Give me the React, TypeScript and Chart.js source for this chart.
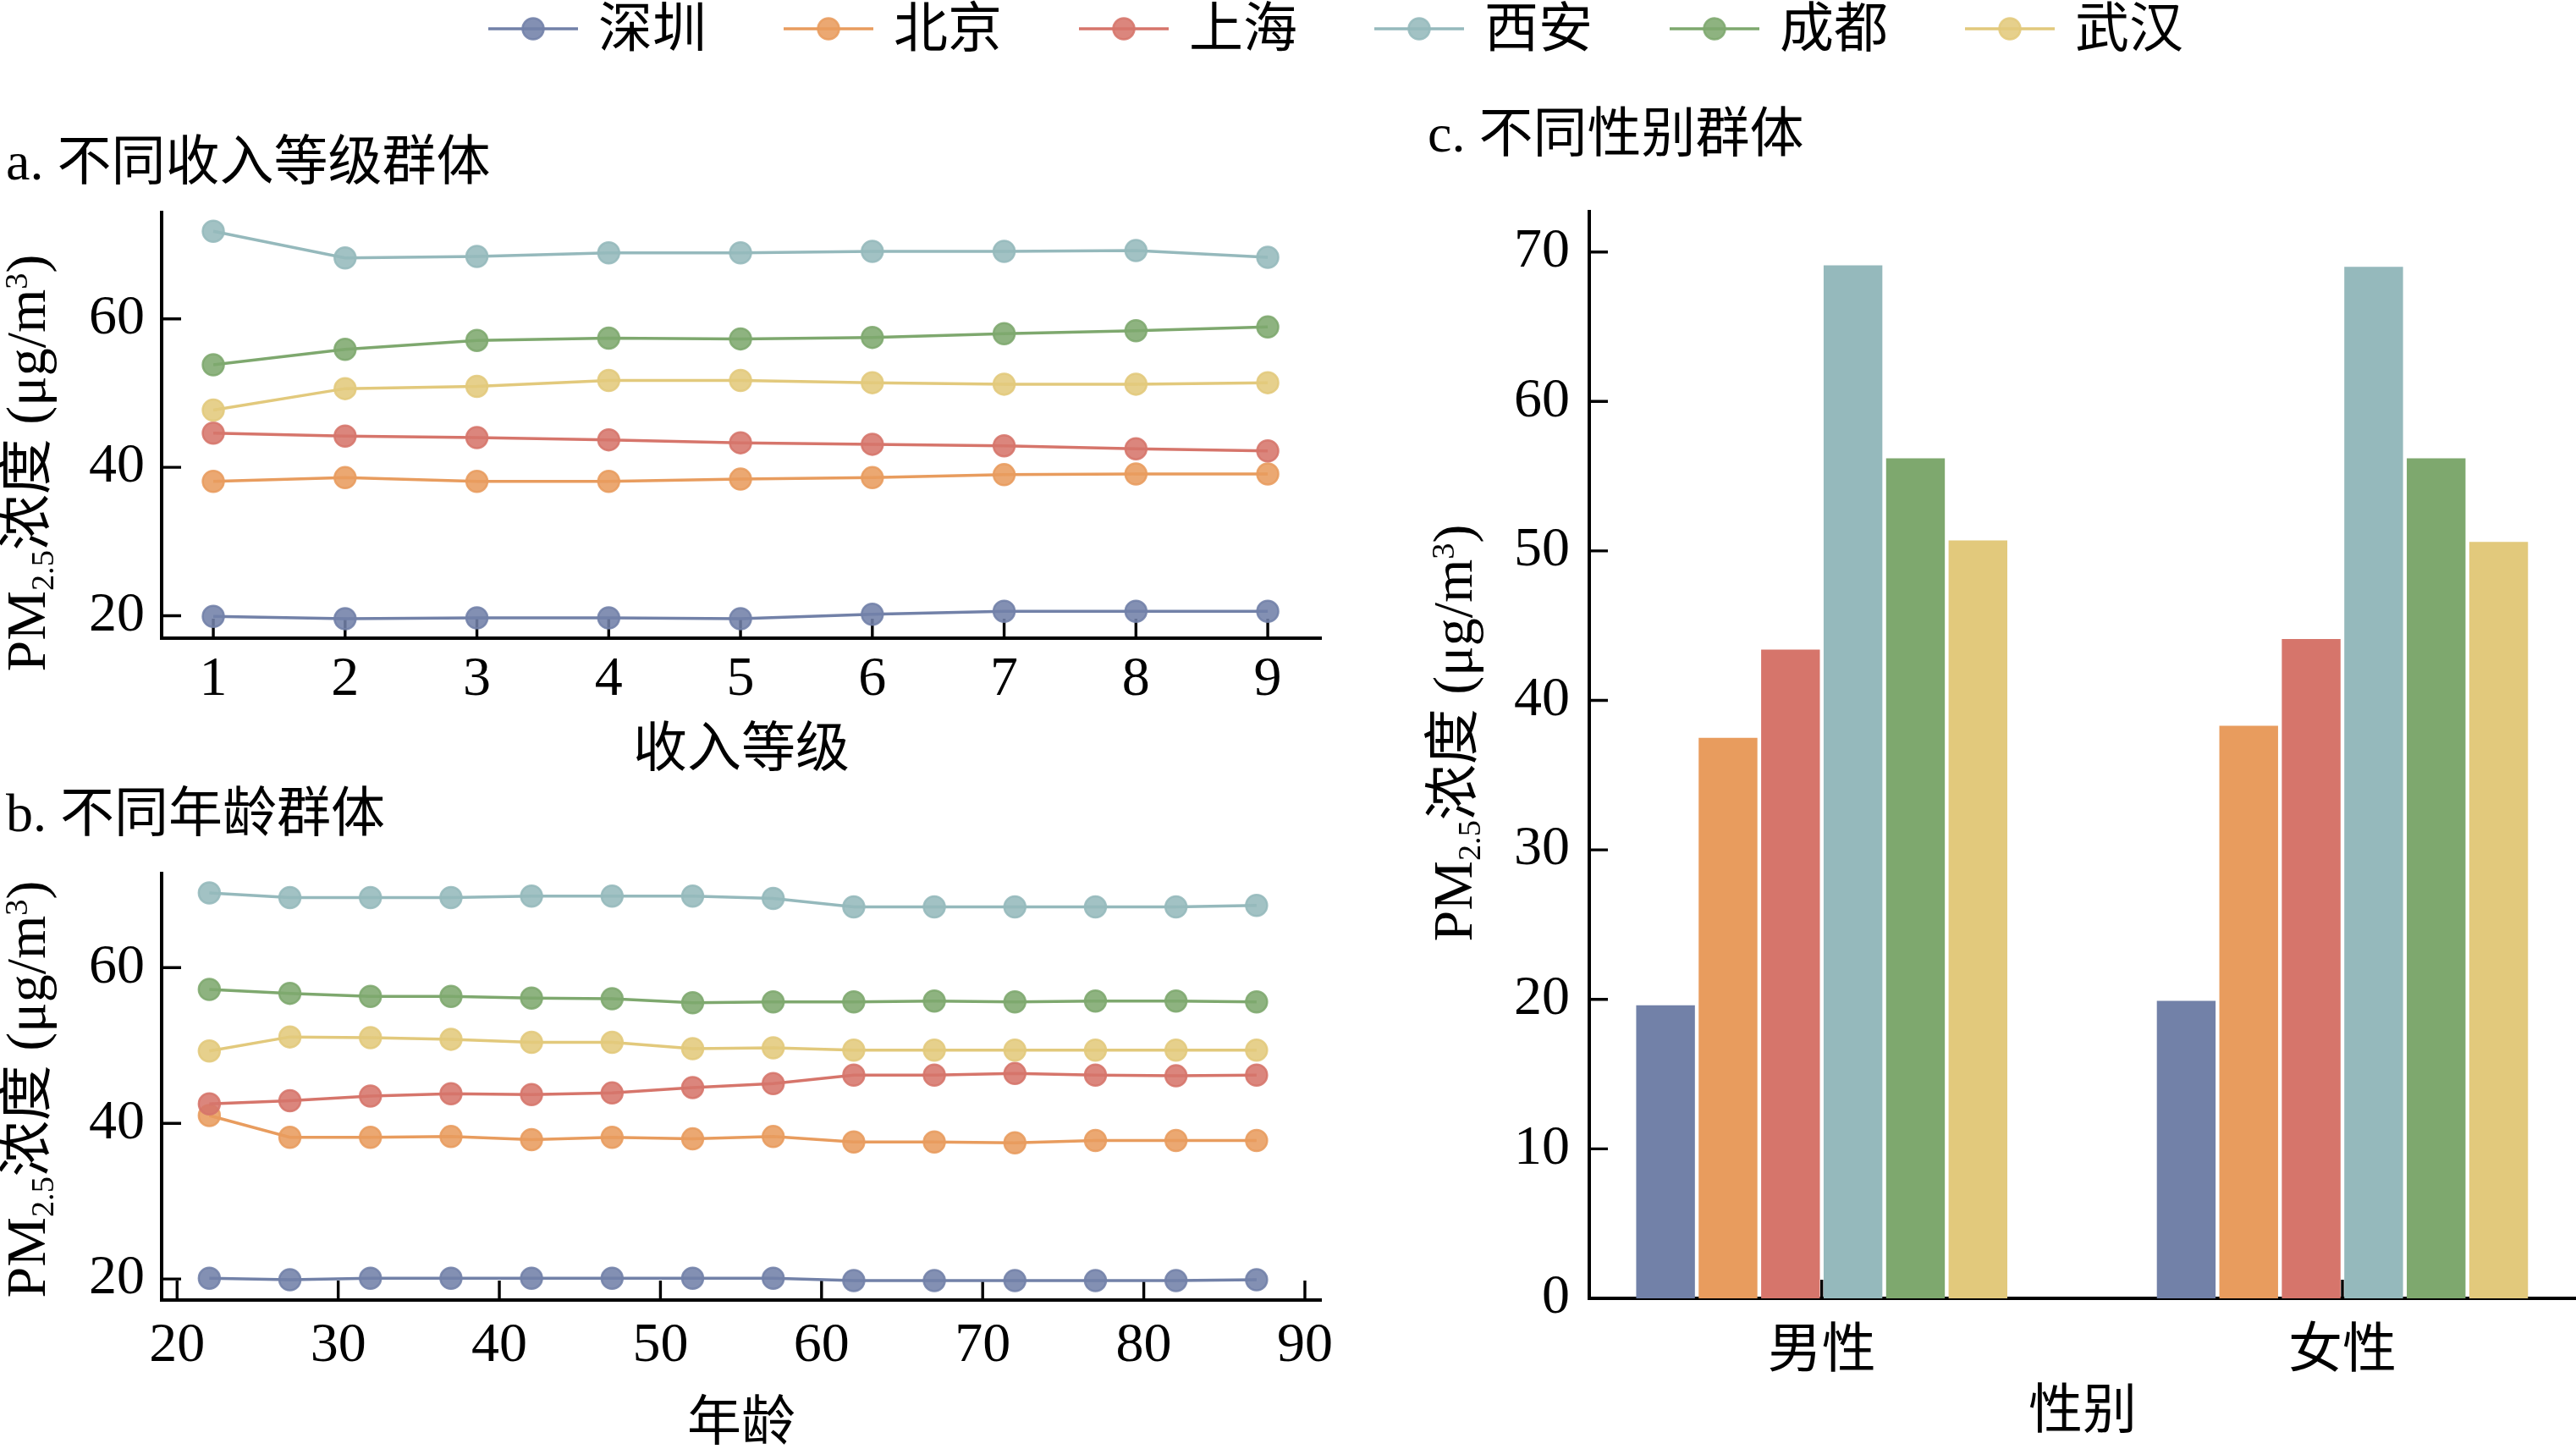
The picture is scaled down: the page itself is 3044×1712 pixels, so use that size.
import { useEffect, useRef } from "react"
import { Chart, registerables, type ChartConfiguration, type Plugin } from "chart.js"

Chart.register(...registerables)

const FONT = '"Liberation Serif", "Noto Sans CJK SC", serif'
Chart.defaults.font.family = FONT
Chart.defaults.color = "#000"

// ---- data ----
const cities = ["深圳", "北京", "上海", "西安", "成都", "武汉"]
const cityColors = ["#7281A8", "#E89C5E", "#D6756B", "#95B9BC", "#7EA86E", "#E2C97C"]

const incomeLevels = [1, 2, 3, 4, 5, 6, 7, 8, 9]
const incomeShenzhen = [19.9, 19.6, 19.7, 19.7, 19.6, 20.2, 20.6, 20.6, 20.6]
const incomeBeijing = [38.1, 38.6, 38.1, 38.1, 38.4, 38.6, 39.0, 39.1, 39.1]
const incomeShanghai = [44.6, 44.2, 44.0, 43.7, 43.3, 43.1, 42.9, 42.5, 42.2]
const incomeXian = [71.8, 68.2, 68.4, 68.9, 68.9, 69.1, 69.1, 69.2, 68.3]
const incomeChengdu = [53.8, 55.9, 57.1, 57.4, 57.3, 57.5, 58.0, 58.4, 58.9]
const incomeWuhan = [47.7, 50.6, 50.9, 51.7, 51.7, 51.4, 51.2, 51.2, 51.4]

const ages = [22, 27, 32, 37, 42, 47, 52, 57, 62, 67, 72, 77, 82, 87]
const ageTicks = [20, 30, 40, 50, 60, 70, 80, 90]
const ageShenzhen = [20.1, 19.9, 20.1, 20.1, 20.1, 20.1, 20.1, 20.1, 19.8, 19.8, 19.8, 19.8, 19.8, 19.9]
const ageBeijing = [41.0, 38.2, 38.2, 38.3, 37.9, 38.2, 38.0, 38.3, 37.6, 37.6, 37.5, 37.8, 37.8, 37.8]
const ageShanghai = [42.5, 42.9, 43.5, 43.8, 43.7, 43.9, 44.6, 45.1, 46.2, 46.2, 46.4, 46.2, 46.1, 46.2]
const ageXian = [69.6, 69.0, 69.0, 69.0, 69.2, 69.2, 69.2, 68.9, 67.8, 67.8, 67.8, 67.8, 67.8, 68.0]
const ageChengdu = [57.2, 56.7, 56.3, 56.3, 56.1, 56.0, 55.5, 55.6, 55.6, 55.7, 55.6, 55.7, 55.7, 55.6]
const ageWuhan = [49.3, 51.1, 51.0, 50.8, 50.4, 50.4, 49.6, 49.7, 49.4, 49.4, 49.4, 49.4, 49.4, 49.4]

const genders = ["男性", "女性"]
const genderShenzhen = [19.6, 19.9]
const genderBeijing = [37.5, 38.3]
const genderShanghai = [43.4, 44.1]
const genderXian = [69.1, 69.0]
const genderChengdu = [56.2, 56.2]
const genderWuhan = [50.7, 50.6]

const lineYTicks = [20, 40, 60]
const barYTicks = [0, 10, 20, 30, 40, 50, 60, 70]

const incomeSeries = [incomeShenzhen, incomeBeijing, incomeShanghai, incomeXian, incomeChengdu, incomeWuhan]
const ageSeries = [ageShenzhen, ageBeijing, ageShanghai, ageXian, ageChengdu, ageWuhan]
const genderSeries = [genderShenzhen, genderBeijing, genderShanghai, genderXian, genderChengdu, genderWuhan]

const rgba = (hex: string, a: number) => {
  const n = parseInt(hex.slice(1), 16)
  return `rgba(${(n >> 16) & 255}, ${(n >> 8) & 255}, ${n & 255}, ${a})`
}

// matplotlib-style ticks pointing into the plot
const inwardTicks: Plugin = {
  id: "inwardTicks",
  beforeDatasetsDraw(chart, _args, opts: any) {
    const { ctx, chartArea, scales } = chart
    ctx.save()
    ctx.strokeStyle = "#000"
    ctx.lineWidth = 3.4
    ctx.beginPath()
    scales.x.ticks.forEach((t) => {
      const px = scales.x.getPixelForValue(t.value)
      ctx.moveTo(px, chartArea.bottom)
      ctx.lineTo(px, chartArea.bottom - opts.len)
    })
    scales.y.ticks.forEach((t) => {
      const py = scales.y.getPixelForValue(t.value)
      ctx.moveTo(chartArea.left, py)
      ctx.lineTo(chartArea.left + opts.len, py)
    })
    ctx.stroke()
    ctx.restore()
  },
}

// y title with subscript / superscript: PM2.5浓度 (μg/m3)
const yTitleSegs = [
  { text: "PM", kind: "" },
  { text: "2.5", kind: "sub" },
  { text: "浓度 (μg/m", kind: "" },
  { text: "3", kind: "sup" },
  { text: ")", kind: "" },
]

const yTitle: Plugin = {
  id: "yTitle",
  afterDraw(chart, _args, opts: any) {
    const { ctx } = chart
    const size = opts.size
    const fontOf = (kind: string) => `${kind ? size * 0.58 : size}px ${FONT}`
    ctx.save()
    let total = 0
    const widths = yTitleSegs.map((s) => {
      ctx.font = fontOf(s.kind)
      const w = ctx.measureText(s.text).width
      total += w
      return w
    })
    ctx.translate(opts.x, opts.y)
    ctx.rotate(-Math.PI / 2)
    ctx.fillStyle = "#000"
    ctx.textAlign = "left"
    ctx.textBaseline = "alphabetic"
    let x = -total / 2
    yTitleSegs.forEach((s, i) => {
      ctx.font = fontOf(s.kind)
      const dy = s.kind === "sub" ? size * 0.15 : s.kind === "sup" ? -size * 0.32 : 0
      ctx.fillText(s.text, x, dy)
      x += widths[i]
    })
    ctx.restore()
  },
}

const axisBase = {
  grid: { display: false, drawTicks: false },
  border: { display: true, color: "#000", width: 4 },
}

interface LinePanel {
  xs: number[]
  series: number[][]
  xMin: number
  xMax: number
  xTicks: number[]
  yMin: number
  yMax: number
  title: string
  titlePad: { top: number; bottom: number }
  xTitle: string
  xTitlePad: number
  xTickPad: number
  xAxisHeight: number
  yTitleY: number
}

function lineConfig(p: LinePanel): ChartConfiguration {
  return {
    type: "line",
    data: {
      datasets: p.series.map((vals, i) => ({
        label: cities[i],
        data: p.xs.map((x, j) => ({ x, y: vals[j] })),
        borderColor: cityColors[i],
        borderWidth: 3.5,
        pointRadius: 12.5,
        pointBorderWidth: 2.5,
        pointBackgroundColor: rgba(cityColors[i], 0.88),
        pointBorderColor: rgba(cityColors[i], 0.88),
        tension: 0,
        order: p.series.length - i,
      })),
    },
    options: {
      responsive: true,
      maintainAspectRatio: false,
      animation: false,
      events: [],
      layout: { padding: { left: 7, right: 79, top: 0, bottom: 0 } },
      plugins: {
        legend: { display: false },
        tooltip: { enabled: false },
        title: {
          display: true,
          text: p.title,
          align: "start",
          color: "#000",
          font: { size: 64, weight: "normal", lineHeight: 1 },
          padding: p.titlePad,
        },
        inwardTicks: { len: 23 },
        yTitle: { x: 53, y: p.yTitleY, size: 66 },
      } as any,
      scales: {
        x: {
          ...axisBase,
          type: "linear",
          min: p.xMin,
          max: p.xMax,
          afterBuildTicks: (s: any) => {
            s.ticks = p.xTicks.map((v) => ({ value: v }))
          },
          afterFit: (s: any) => {
            s.height = p.xAxisHeight
          },
          ticks: { font: { size: 66 }, padding: p.xTickPad, maxRotation: 0, autoSkip: false },
          title: {
            display: true,
            text: p.xTitle,
            color: "#000",
            font: { size: 64, lineHeight: 1 },
            padding: { top: 0, bottom: p.xTitlePad },
          },
        },
        y: {
          ...axisBase,
          type: "linear",
          min: p.yMin,
          max: p.yMax,
          afterBuildTicks: (s: any) => {
            s.ticks = lineYTicks.map((v) => ({ value: v }))
          },
          afterFit: (s: any) => {
            s.width = 184
          },
          ticks: { font: { size: 66 }, padding: 20 },
        },
      },
    },
    plugins: [inwardTicks, yTitle],
  }
}

function barConfig(): ChartConfiguration {
  return {
    type: "bar",
    data: {
      datasets: genderSeries.map((vals, i) => ({
        label: cities[i],
        data: genders.map((_, j) => ({ x: j, y: vals[j] })),
        backgroundColor: cityColors[i],
        borderWidth: 0,
        categoryPercentage: 0.72,
        barPercentage: 0.94,
      })),
    },
    options: {
      responsive: true,
      maintainAspectRatio: false,
      animation: false,
      events: [],
      layout: { padding: { left: 47, right: 0, top: 0, bottom: 0 } },
      plugins: {
        legend: { display: false },
        tooltip: { enabled: false },
        title: {
          display: true,
          text: "c. 不同性别群体",
          align: "start",
          color: "#000",
          font: { size: 64, weight: "normal", lineHeight: 1 },
          padding: { top: 30, bottom: 56 },
        },
        inwardTicks: { len: 22 },
        yTitle: { x: 99, y: 766, size: 66 },
      } as any,
      scales: {
        x: {
          ...axisBase,
          type: "linear",
          offset: false,
          min: -0.4465,
          max: 1.4486,
          afterBuildTicks: (s: any) => {
            s.ticks = genders.map((_, j) => ({ value: j }))
          },
          afterFit: (s: any) => {
            s.height = 178
          },
          ticks: {
            font: { size: 64 },
            padding: 26,
            maxRotation: 0,
            autoSkip: false,
            callback: (v: any) => genders[v] ?? "",
          },
          title: {
            display: true,
            text: "性别",
            color: "#000",
            font: { size: 64, lineHeight: 1 },
            padding: { top: 0, bottom: 10 },
          },
        },
        y: {
          ...axisBase,
          type: "linear",
          min: 0,
          max: 72.7,
          afterBuildTicks: (s: any) => {
            s.ticks = barYTicks.map((v) => ({ value: v }))
          },
          afterFit: (s: any) => {
            s.width = 191
          },
          ticks: { font: { size: 66 }, padding: 23 },
        },
      },
    },
    plugins: [inwardTicks, yTitle],
  }
}

function ChartBox({ left, top, width, height, config }: {
  left: number
  top: number
  width: number
  height: number
  config: () => ChartConfiguration
}) {
  const canvasRef = useRef<HTMLCanvasElement>(null)

  useEffect(() => {
    if (!canvasRef.current) return
    const chart = new Chart(canvasRef.current, config())
    return () => chart.destroy()
  }, [])

  return (
    <div style={{ position: "absolute", left, top, width, height }}>
      <canvas ref={canvasRef} />
    </div>
  )
}

function Legend() {
  return (
    <div style={{ position: "absolute", left: 577, top: 0, height: 68, display: "flex", alignItems: "center", gap: 91 }}>
      {cities.map((c, i) => (
        <div key={c} style={{ display: "flex", alignItems: "center" }}>
          <svg width={106} height={34}>
            <line x1={0} y1={17} x2={106} y2={17} stroke={cityColors[i]} strokeWidth={3.5} />
            <circle cx={53} cy={17} r={12.5} fill={rgba(cityColors[i], 0.88)} stroke={rgba(cityColors[i], 0.88)} strokeWidth={2.5} />
          </svg>
          <span style={{ marginLeft: 24, fontSize: 64, lineHeight: "68px", whiteSpace: "nowrap" }}>{c}</span>
        </div>
      ))}
    </div>
  )
}

export default function App() {
  return (
    <div
      style={{
        position: "absolute",
        left: 0,
        top: 0,
        width: 3044,
        height: 1712,
        background: "#fff",
        overflow: "hidden",
        fontFamily: FONT,
        color: "#000",
      }}
    >
      <Legend />
      <ChartBox
        left={0}
        top={140}
        width={1640}
        height={820}
        config={() =>
          lineConfig({
            xs: incomeLevels,
            series: incomeSeries,
            xMin: 0.608,
            xMax: 9.404,
            xTicks: incomeLevels,
            yMin: 16.97,
            yMax: 74.34,
            title: "a. 不同收入等级群体",
            titlePad: { top: 23, bottom: 24 },
            xTitle: "收入等级",
            xTitlePad: 40,
            xTickPad: 10,
            xAxisHeight: 206,
            yTitleY: 407,
          })
        }
      />
      <ChartBox
        left={0}
        top={880}
        width={1640}
        height={832}
        config={() =>
          lineConfig({
            xs: ages,
            series: ageSeries,
            xMin: 19.04,
            xMax: 91.0,
            xTicks: ageTicks,
            yMin: 17.3,
            yMax: 72.1,
            title: "b. 不同年龄群体",
            titlePad: { top: 53, bottom: 35 },
            xTitle: "年龄",
            xTitlePad: -4,
            xTickPad: 15,
            xAxisHeight: 176,
            yTitleY: 407,
          })
        }
      />
      <ChartBox left={1640} top={100} width={1404} height={1612} config={barConfig} />
    </div>
  )
}
